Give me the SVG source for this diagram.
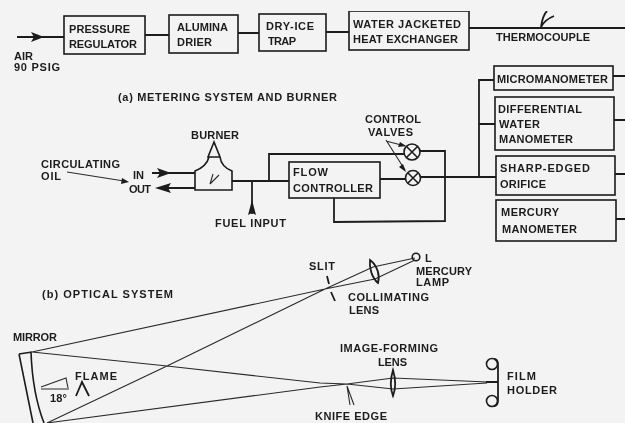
<svg xmlns="http://www.w3.org/2000/svg" width="625" height="423" viewBox="0 0 625 423">
<style>
text{font-family:"Liberation Sans",Arial,sans-serif;font-size:11px;font-weight:bold;fill:#1c1c1c}
.b{fill:none;stroke:#1c1c1c;stroke-width:1.6}
.l{fill:none;stroke:#1c1c1c;stroke-width:1.8}
.t{fill:none;stroke:#2a2a2a;stroke-width:1.1}
.h{fill:#1c1c1c;stroke:none}
</style>
<defs><filter id="s" x="0" y="0" width="100%" height="100%"><feGaussianBlur stdDeviation="0.35"/></filter></defs>
<rect width="625" height="423" fill="#f3f3f3"/>
<g filter="url(#s)">
<g id="connectors">
<path class="l" d="M17 37H64M145 35H169M238 33H259M326 32H349M469 28H625"/>
<path class="h" d="M31 32L44 37L31 42L34 37Z"/>
<path class="l" d="M541 27C542 20 544 14 547 11M541 27C544 21 549 18 554 16"/>
<path class="l" d="M613 76H625M614 120H625M615 174H625M616 219H625"/>
<path class="l" d="M479 177V80H494M479 124H495"/>
<path class="l" d="M232 181H289M269 181V154H404M420 151H445V221L334 222V198M380 179H405M421 177H496"/>
<path class="l" d="M252 181V214"/>
<path class="h" d="M252 200L256 215L252 213L248 215Z"/>
<path class="l" d="M152 173H195M160 188H195"/>
<path class="h" d="M157 168L171 173L157 178L160 173ZM155 188L171 183L168 188L171 193Z"/>
<path class="t" d="M67 172L124 181"/>
<path class="h" d="M129 182L121 184L122 178Z"/>
<path class="t" d="M386 141L405 146M386 140L405 170"/>
<path class="h" d="M406 146L398 147L400 142ZM406 172L399 167L403 164Z"/>
<path class="t" d="M415 258L373 267L325 289L167 366L47 423M415 260L375 279L325 289L32 352L167 366L320 383L347 384L393 378L488 382M47 423L320 387L347 384L393 389L487 383"/>
</g>
<g id="pressure-regulator"><rect class="b" x="64" y="16" width="81" height="38"/><text x="69" y="33" textLength="61">PRESSURE</text><text x="69" y="48" textLength="68">REGULATOR</text></g>
<g id="alumina-drier"><rect class="b" x="169" y="15" width="69" height="38"/><text x="177" y="31" textLength="51">ALUMINA</text><text x="177" y="46" textLength="35">DRIER</text></g>
<g id="dry-ice-trap"><rect class="b" x="259" y="14" width="67" height="37"/><text x="266" y="30" textLength="48">DRY-ICE</text><text x="268" y="45" textLength="28">TRAP</text></g>
<g id="heat-exchanger"><rect class="b" x="349" y="11" width="120" height="39"/><text x="353" y="28" textLength="108">WATER JACKETED</text><text x="353" y="43" textLength="105">HEAT EXCHANGER</text></g>
<g id="thermocouple-label"><text x="496" y="41" textLength="94">THERMOCOUPLE</text></g>
<g id="air-label"><text x="14" y="60" textLength="19">AIR</text><text x="14" y="71" textLength="46">90 PSIG</text></g>
<g id="caption-a"><text x="118" y="101" textLength="219">(a) METERING SYSTEM AND BURNER</text></g>
<g id="micromanometer"><rect class="b" x="494" y="66" width="119" height="24"/><text x="497" y="83" textLength="111">MICROMANOMETER</text></g>
<g id="differential"><rect class="b" x="495" y="97" width="119" height="53"/><text x="498" y="113" textLength="84">DIFFERENTIAL</text><text x="499" y="128" textLength="41">WATER</text><text x="499" y="143" textLength="74">MANOMETER</text></g>
<g id="orifice"><rect class="b" x="496" y="156" width="119" height="39"/><text x="500" y="172" textLength="90">SHARP-EDGED</text><text x="500" y="188" textLength="46">ORIFICE</text></g>
<g id="mercury"><rect class="b" x="496" y="200" width="120" height="41"/><text x="501" y="216" textLength="58">MERCURY</text><text x="502" y="233" textLength="75">MANOMETER</text></g>
<g id="flow-controller"><rect class="b" x="289" y="162" width="91" height="36"/><text x="293" y="176" textLength="35">FLOW</text><text x="293" y="192" textLength="80">CONTROLLER</text></g>
<g id="valves"><text x="365" y="123" textLength="56">CONTROL</text><text x="368" y="136" textLength="45">VALVES</text>
<circle class="b" cx="412" cy="152" r="8"/><path class="b" d="M406.500 146.500L417.500 157.500M417.500 146.500L406.500 157.500"/>
<circle class="b" cx="413" cy="178" r="7.500"/><path class="b" d="M408 173L418 183M418 173L408 183"/></g>
<g id="burner"><text x="191" y="139" textLength="48">BURNER</text>
<path class="b" d="M214 142L208 157H220ZM209 157C207 165 200 169 195 171V190H232V171C227 169 221 165 220 157"/>
<path class="t" d="M210 184L213 174M210 184L219 175"/></g>
<g id="oil-labels"><text x="41" y="168" textLength="79">CIRCULATING</text><text x="41" y="180" textLength="20">OIL</text><text x="133" y="179" textLength="11">IN</text><text x="129" y="193" textLength="22">OUT</text></g>
<g id="fuel-label"><text x="215" y="227" textLength="71">FUEL INPUT</text></g>
<g id="caption-b"><text x="42" y="298" textLength="131">(b) OPTICAL SYSTEM</text></g>
<g id="mirror"><text x="13" y="341" textLength="44">MIRROR</text><path class="b" d="M19 354L32 352M19 354L33 423M31 352C32 380 37 405 44 423"/></g>
<g id="angle"><path class="t" d="M41 387L66 378L68 388M41 389H69"/><text x="50" y="402" textLength="17">18°</text></g>
<g id="flame"><text x="75" y="380" textLength="42">FLAME</text><path class="l" d="M76 396L82 382L89 396"/></g>
<g id="slit"><text x="309" y="270" textLength="26">SLIT</text><path class="l" d="M327 276L329 284M331 292L335 301"/></g>
<g id="collimating-lens"><path class="l" d="M370 260C378 266 380 276 378 283C372 278 369 268 370 260Z"/><text x="348" y="301" textLength="81">COLLIMATING</text><text x="349" y="314" textLength="30">LENS</text></g>
<g id="lamp"><circle class="b" cx="416" cy="257" r="3.800"/><text x="425" y="262" textLength="7">L</text><text x="416" y="275" textLength="56">MERCURY</text><text x="416" y="286" textLength="33">LAMP</text></g>
<g id="knife-edge"><path class="t" d="M347 386L350 405M347 386L354 405"/><text x="315" y="420" textLength="72">KNIFE EDGE</text></g>
<g id="image-lens"><path class="l" d="M393 370C396 380 396 388 393 396C390 388 390 380 393 370Z"/><text x="340" y="352" textLength="98">IMAGE-FORMING</text><text x="378" y="366" textLength="29">LENS</text></g>
<g id="film-holder"><circle class="b" cx="492" cy="364" r="5.500"/><circle class="b" cx="492" cy="401" r="5.500"/><path class="l" d="M494 359C497 359 498 361 498 365V400C498 404 497 406 494 406M486 382H498"/><text x="507" y="380" textLength="29">FILM</text><text x="507" y="394" textLength="50">HOLDER</text></g>
</g>
</svg>
